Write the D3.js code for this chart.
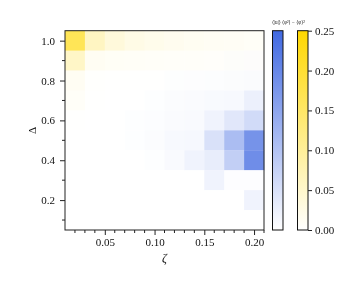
<!DOCTYPE html>
<html>
<head>
<meta charset="utf-8">
<script src="https://cdn.jsdelivr.net/npm/d3@7"></script>
<style>
body { margin: 0; background: #fff; }
text { font-family: 'Liberation Serif', 'DejaVu Serif', serif; fill: #111; }
</style>
</head>
<body>
<svg></svg>
<script>
const width = 353;
const height = 283;

// data
const zetas = [0.02, 0.04, 0.06, 0.08, 0.10, 0.12, 0.14, 0.16, 0.18, 0.20];
const deltas = [1.0, 0.9, 0.8, 0.7, 0.6, 0.5, 0.4, 0.3, 0.2, 0.1];
// variance <phi^2> - <phi>^2, rows follow deltas (top to bottom)
const varianceValues = [
	[0.165, 0.06, 0.035, 0.025, 0.02, 0.016, 0.013, 0.011, 0.01, 0.008],
	[0.055, 0.012, 0.009, 0.008, 0.007, 0.006, 0.006, 0.005, 0.005, 0.004],
	[0.012, 0.002, 0.001, 0.001, 0.001, 0.001, 0.001, 0.001, 0.001, 0.001],
	[0.007, 0.001, 0, 0, 0, 0, 0, 0, 0, 0],
	[0.001, 0, 0, 0, 0, 0, 0, 0, 0, 0],
	[0, 0, 0, 0, 0, 0, 0, 0, 0, 0],
	[0, 0, 0, 0, 0, 0, 0, 0, 0, 0],
	[0, 0, 0, 0, 0, 0, 0, 0, 0, 0],
	[0, 0, 0, 0, 0, 0, 0, 0, 0, 0],
	[0, 0, 0, 0, 0, 0, 0, 0, 0, 0]
];
// mean speed <|u|>
const speedValues = [
	[0, 0, 0, 0, 0, 0, 0, 0, 0, 0],
	[0, 0, 0, 0, 0, 0, 0, 0, 0.002, 0.003],
	[0, 0, 0, 0, 0, 0.002, 0.003, 0.004, 0.005, 0.006],
	[0, 0, 0, 0, 0.002, 0.005, 0.007, 0.009, 0.01, 0.025],
	[0, 0, 0, 0.002, 0.004, 0.006, 0.008, 0.02, 0.04, 0.06],
	[0, 0, 0, 0.002, 0.005, 0.01, 0.012, 0.05, 0.11, 0.18],
	[0, 0, 0, 0, 0.002, 0.008, 0.02, 0.03, 0.08, 0.19],
	[0, 0, 0, 0, 0, 0, 0, 0.02, 0.003, 0.003],
	[0, 0, 0, 0, 0, 0, 0, 0, 0, 0.02],
	[0, 0, 0, 0, 0, 0, 0, 0, 0, 0]
];
const xTicks = [0.05, 0.10, 0.15, 0.20];
const yTicks = [0.2, 0.4, 0.6, 0.8, 1.0];
const cbarTicks = [0, 0.05, 0.10, 0.15, 0.20, 0.25];

const svg = d3.select('svg')
	.attr('width', width)
	.attr('height', height);

const plot = {left: 65, right: 264, top: 30.7, bottom: 230};

const x = d3.scaleLinear().domain([0.01, 0.21]).range([plot.left, plot.right]);
const y = d3.scaleLinear().domain([0.05, 1.05]).range([plot.bottom, plot.top]);

const yellow = d3.scaleLinear().domain([0, 0.25])
	.range(['#ffffff', '#ffd700']).interpolate(d3.interpolateRgb).clamp(true);
const blue = d3.scaleLinear().domain([0, 0.25])
	.range(['#ffffff', '#4169e1']).interpolate(d3.interpolateRgb).clamp(true);

function cells(values) {
	const out = [];
	deltas.forEach((dl, i) => zetas.forEach((z, j) => out.push({z, dl, v: values[i][j]})));
	return out;
}

const dz = 0.02, dd = 0.1;

svg.append('g').selectAll('rect')
	.data(cells(varianceValues))
	.join('rect')
		.attr('x', d => x(d.z - dz / 2))
		.attr('y', d => y(d.dl + dd / 2))
		.attr('width', x(dz) - x(0) + 0.3)
		.attr('height', y(0) - y(dd) + 0.3)
		.attr('fill', d => yellow(d.v));

svg.append('g').style('mix-blend-mode', 'multiply').selectAll('rect')
	.data(cells(speedValues))
	.join('rect')
		.attr('x', d => x(d.z - dz / 2))
		.attr('y', d => y(d.dl + dd / 2))
		.attr('width', x(dz) - x(0) + 0.3)
		.attr('height', y(0) - y(dd) + 0.3)
		.attr('fill', d => blue(d.v));

// axes
const xAxis = d3.axisBottom(x).tickValues(xTicks).tickFormat(d3.format('.2f')).tickSize(5).tickPadding(3);
const yAxis = d3.axisLeft(y).tickValues(yTicks).tickFormat(d3.format('.1f')).tickSize(5).tickPadding(5);

const xMinor = d3.range(0.02, 0.2101, 0.01).filter(v => !xTicks.some(t => Math.abs(t - v) < 1e-6));
const yMinor = [0.1, 0.3, 0.5, 0.7, 0.9];

const gx = svg.append('g').attr('transform', `translate(0,${plot.bottom})`).call(xAxis);
const gy = svg.append('g').attr('transform', `translate(${plot.left},0)`).call(yAxis);
[gx, gy].forEach(g => {
	g.select('.domain').remove();
	g.selectAll('line').attr('stroke', '#222');
	g.selectAll('text').attr('font-size', 11).style('font-family', "'Liberation Serif', serif");
});

svg.append('g').selectAll('line').data(xMinor).join('line')
	.attr('x1', d => x(d)).attr('x2', d => x(d))
	.attr('y1', plot.bottom).attr('y2', plot.bottom + 3)
	.attr('stroke', '#222');
svg.append('g').selectAll('line').data(yMinor).join('line')
	.attr('y1', d => y(d)).attr('y2', d => y(d))
	.attr('x1', plot.left).attr('x2', plot.left - 3)
	.attr('stroke', '#222');

svg.append('rect')
	.attr('x', plot.left).attr('y', plot.top)
	.attr('width', plot.right - plot.left).attr('height', plot.bottom - plot.top)
	.attr('fill', 'none').attr('stroke', '#222').attr('stroke-width', 1);

svg.append('text')
	.attr('x', (plot.left + plot.right) / 2).attr('y', 262)
	.attr('text-anchor', 'middle').attr('font-size', 12).attr('font-style', 'italic')
	.text('ζ');
svg.append('text')
	.attr('transform', `translate(36,${(plot.top + plot.bottom) / 2}) rotate(-90)`)
	.attr('text-anchor', 'middle').attr('font-size', 11)
	.text('Δ');

// colorbars
const defs = svg.append('defs');
function gradient(id, scale) {
	const g = defs.append('linearGradient').attr('id', id)
		.attr('x1', 0).attr('y1', 1).attr('x2', 0).attr('y2', 0);
	d3.range(0, 1.0001, 0.1).forEach(t => g.append('stop')
		.attr('offset', t).attr('stop-color', scale(t * 0.25)));
}
gradient('gBlue', blue);
gradient('gYellow', yellow);

const cb = d3.scaleLinear().domain([0, 0.25]).range([plot.bottom, plot.top]);
const bars = [{x: 272.5, id: 'gBlue'}, {x: 297.5, id: 'gYellow'}];
svg.append('g').selectAll('rect').data(bars).join('rect')
	.attr('x', d => d.x).attr('y', plot.top)
	.attr('width', 10.5).attr('height', plot.bottom - plot.top)
	.attr('fill', d => `url(#${d.id})`)
	.attr('stroke', '#111').attr('stroke-width', 1);

const cAxis = d3.axisRight(cb).tickValues(cbarTicks).tickFormat(d3.format('.2f')).tickSize(4).tickPadding(3);
const gc = svg.append('g').attr('transform', 'translate(308,0)').call(cAxis);
gc.select('.domain').remove();
gc.selectAll('line').attr('stroke', '#222');
gc.selectAll('text').attr('font-size', 11).style('font-family', "'Liberation Serif', serif");

svg.append('text')
	.attr('x', 272).attr('y', 24)
	.attr('font-size', 5.2)
	.text('⟨|u|⟩ ⟨φ²⟩ − ⟨φ⟩²');
</script>
</body>
</html>
